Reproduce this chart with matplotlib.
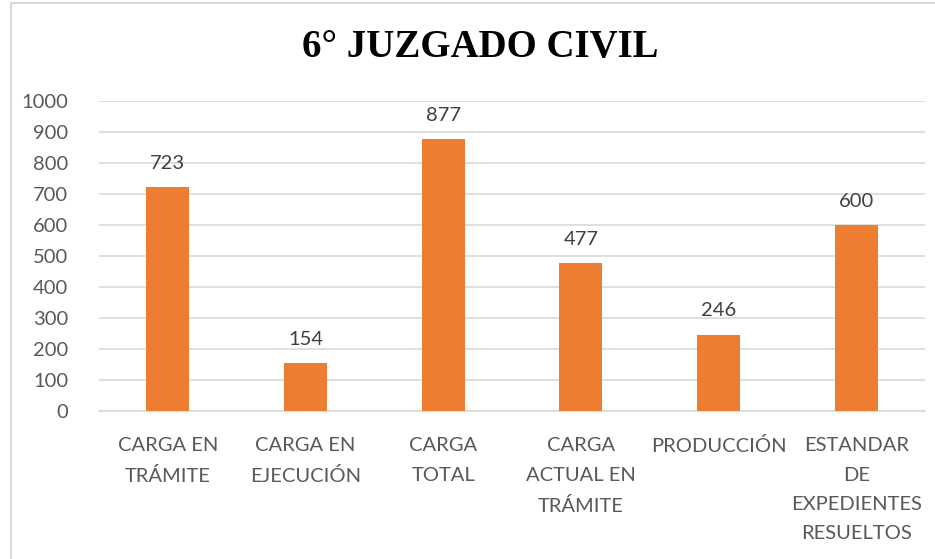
import matplotlib

matplotlib.use("Agg")
import matplotlib.pyplot as plt  # noqa: E402
from matplotlib.patches import Rectangle  # noqa: E402

categories = [
    "CARGA EN\nTRÁMITE",
    "CARGA EN\nEJECUCIÓN",
    "CARGA\nTOTAL",
    "CARGA\nACTUAL EN\nTRÁMITE",
    "PRODUCCIÓN",
    "ESTANDAR\nDE\nEXPEDIENTES\nRESUELTOS",
]
values = [723, 154, 877, 477, 246, 600]
y_ticks = list(range(0, 1001, 100))

BAR = "#ED7D31"
GRID = "#D9D9D9"
TICK = "#595959"
LABEL = "#404040"
SANS = ["Lato", "DejaVu Sans"]
FS = 14.5

fig = plt.figure(figsize=(9.35, 5.59), dpi=100)
ax = fig.add_axes([99 / 935, 1 - 411 / 559, 826 / 935, 310 / 559])

x = range(len(categories))
ax.bar(x, values, width=0.31, color=BAR, zorder=3)
for xi, v in zip(x, values):
    ax.annotate(str(v), (xi, v), xytext=(0, 11), textcoords="offset points",
                ha="center", va="bottom", fontsize=FS, color=LABEL,
                family=SANS)

ax.set_xlim(-0.5, len(categories) - 0.5)
ax.set_ylim(0, 1000)
ax.set_yticks(y_ticks)
ax.set_yticklabels([str(t) for t in y_ticks], family=SANS, fontsize=FS,
                   color=TICK)
ax.set_xticks(list(x))
ax.set_xticklabels(categories, family=SANS, fontsize=FS, color=TICK,
                   linespacing=1.87, va="top")
ax.tick_params(axis="both", length=0)
ax.tick_params(axis="y", pad=22)
ax.tick_params(axis="x", pad=19)
ax.grid(axis="y", color=GRID, lw=1.2, zorder=0)
for side in ("top", "right", "left"):
    ax.spines[side].set_visible(False)
ax.spines["bottom"].set_color(GRID)
ax.spines["bottom"].set_linewidth(1.2)

fig.text(480 / 935, 1 - 48 / 559, "6° JUZGADO CIVIL", ha="center",
         va="center", family="Liberation Serif", weight="bold", fontsize=28)

# chart frame (extends past the right and bottom edges of the image)
fig.patches.append(Rectangle((11 / 935, -0.1), 1.0, 1 - 3 / 559 + 0.1,
                             transform=fig.transFigure, fill=False,
                             edgecolor=GRID, lw=1.5))

fig.savefig("out.png", dpi=100)
